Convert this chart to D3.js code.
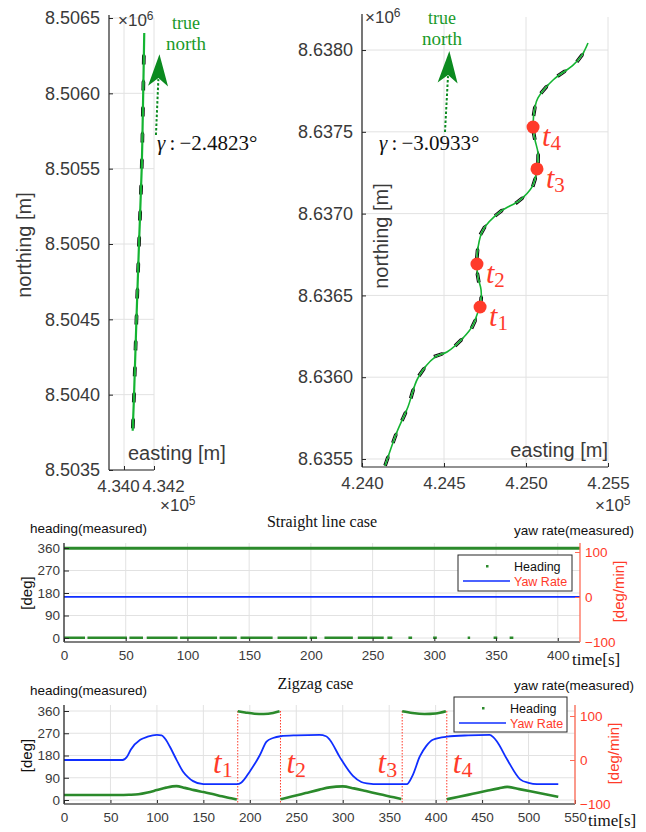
<!DOCTYPE html>
<html>
<head>
<meta charset="utf-8">
<script src="https://cdn.jsdelivr.net/npm/d3@7"></script>
<style>
  body { margin: 0; background: #fff; }
  svg { display: block; }
</style>
</head>
<body>
<div id="chart"></div>
<script>
// ---- data ----

// ship tracks, [easting, northing] in metres
const straightTrack = [
  [434058, 8503760], [434067, 8504000], [434083, 8504500], [434100, 8505000],
  [434118, 8505500], [434128, 8506000], [434135, 8506400]
];
const zigzagTrack = [
  [424140, 8635457], [424213, 8635665], [424280, 8635818], [424341, 8635995],
  [424445, 8636123], [424518, 8636154], [424616, 8636240], [424677, 8636319],
  [424707, 8636399], [424720, 8636429], [424726, 8636533], [424707, 8636612],
  [424701, 8636692], [424707, 8636790], [424738, 8636900], [424841, 8637010],
  [424963, 8637083], [425037, 8637163], [425067, 8637273], [425073, 8637370],
  [425055, 8637450], [425043, 8637529], [425055, 8637652], [425073, 8637707],
  [425165, 8637817], [425287, 8637908], [425341, 8637969], [425378, 8638043]
];
// zigzag event points t1..t4
const zigzagEvents = [
  { name: "1", e: 424720, n: 8636429 },
  { name: "2", e: 424701, n: 8636692 },
  { name: "3", e: 425067, n: 8637273 },
  { name: "4", e: 425043, n: 8637529 }
];
// grid convergence angles [deg]
const gammaStraight = -2.4823;
const gammaZigzag = -3.0933;

// axis ticks
const straightEastTicks = [434000, 434200];
const straightNorthTicks = [8503500, 8504000, 8504500, 8505000, 8505500, 8506000, 8506500];
const zigzagEastTicks = [424000, 424500, 425000, 425500];
const zigzagNorthTicks = [8635500, 8636000, 8636500, 8637000, 8637500, 8638000];
const headingTicks = [0, 90, 180, 270, 360];
const yawTicks = [-100, 0, 100];
const straightTimeTicks = [0, 50, 100, 150, 200, 250, 300, 350, 400];
const zigzagTimeTicks = [0, 50, 100, 150, 200, 250, 300, 350, 400, 450, 500, 550];

// straight line case: heading sits around 359 deg, with runs of samples wrapping to ~1 deg
const straightHeadingHigh = [[0, 359], [100, 359], [200, 359], [300, 359], [418, 359]];
const straightHeadingLowRuns = [
  [0, 17], [19, 51], [53, 64], [67, 92], [94, 124], [126, 140], [143, 169], [173, 197],
  [199, 205], [211, 234], [238, 259], [262, 266], [279, 282], [299, 302], [327, 329],
  [348, 351], [361, 364]
];
const straightHeadingLow = 1;
const straightYaw = [[0, 0.5], [100, 0.5], [200, 0.5], [300, 0.5], [418, 0.5]];

// zigzag case: heading [s, deg] (wraps at 0/360) and yaw rate [s, deg/min]
const zigzagHeading = [
  [0, 20], [30, 20], [60, 20], [70, 21], [80, 23], [90, 30], [100, 40], [110, 50], [121, 56],
  [130, 49], [140, 40], [150, 32], [160, 24], [170, 15], [180, 7], [186, 2],
  [187, 359], [195, 354], [205, 349], [215, 348], [225, 352], [232, 359],
  [233, 3], [245, 14], [260, 28], [275, 42], [286, 51], [300, 55], [312, 47], [325, 36],
  [340, 23], [355, 11], [363, 4],
  [364, 359], [375, 352], [388, 348], [400, 350], [411, 359],
  [412, 3], [425, 13], [440, 25], [455, 37], [468, 47], [477, 53], [490, 44], [510, 29], [532, 13]
];
const zigzagYaw = [
  [0, 0], [63, 0], [68, 8], [72, 24], [82, 46], [90, 53], [100, 57], [105, 56], [110, 45],
  [114, 30], [121, 1], [128, -26], [134, -40], [139, -48], [150, -55], [186, -55], [191, -51],
  [200, -26], [211, 12], [218, 42], [225, 50], [233, 54], [250, 56], [275, 57], [282, 54],
  [286, 46], [297, 6], [311, -36], [320, -50], [326, -53], [340, -55], [369, -55], [375, -36],
  [383, 8], [390, 32], [397, 46], [412, 53], [435, 56], [458, 57], [462, 52], [466, 42],
  [477, 1], [491, -44], [500, -52], [509, -55], [532, -55]
];
const zigzagEventTimes = [187, 233, 364, 412];

// ---- styles ----
const SANS = '"Liberation Sans", Arial, Helvetica, sans-serif';
const SERIF = '"Liberation Serif", "Times New Roman", Times, serif';
const AX = "#262626", TXT = "#3a3a3a", GRID = "#e2e2e2";
const TRACK = "#14b432", ARROW = "#0b8a1f", NORTHTXT = "#1a9a2a";
const HEAD = "#2b8a2b", YAW = "#0f2eff", RED = "#ff3b2a", RAXIS = "#ff6a55";

const svg = d3.select("#chart").append("svg")
  .attr("width", 646).attr("height", 832)
  .style("font-family", SANS);

function styleAxis(sel, color, size) {
  sel.select(".domain").remove();
  sel.selectAll(".tick line").attr("stroke", color);
  sel.selectAll(".tick text").attr("fill", TXT).style("font-size", size + "px").style("font-family", SANS);
}

// ---- top panels: ship tracks ----
function trackPanel(o) {
  const x = d3.scaleLinear().domain(o.xDomain).range(o.xRange);
  const y = d3.scaleLinear().domain(o.yDomain).range(o.yRange);
  const [xl, xr] = o.xRange, [yb, yt] = o.yRange;
  const g = svg.append("g");

  // grid
  g.append("g").selectAll("line").data(o.xTicks).join("line")
    .attr("x1", d => x(d)).attr("x2", d => x(d)).attr("y1", yb).attr("y2", yt)
    .attr("stroke", GRID);
  g.append("g").selectAll("line").data(o.yTicks).join("line")
    .attr("x1", xl).attr("x2", xr).attr("y1", d => y(d)).attr("y2", d => y(d))
    .attr("stroke", GRID);

  // axes
  const ya = g.append("g").attr("transform", `translate(${xl},0)`)
    .call(d3.axisLeft(y).tickValues(o.yTicks).tickSize(-4).tickPadding(9)
      .tickFormat(d => (d / 1e6).toFixed(4)));
  styleAxis(ya, AX, 18);
  const xa = g.append("g").attr("transform", `translate(0,${yb})`)
    .call(d3.axisBottom(x).tickValues(o.xTicks).tickSize(-4).tickPadding(10)
      .tickFormat(d => (d / 1e5).toFixed(3)));
  styleAxis(xa, AX, 17);
  xa.selectAll(".tick text").attr("dx", (d, i) => o.xLabelDx ? o.xLabelDx[i] : 0);
  g.append("line").attr("x1", xl).attr("x2", xl).attr("y1", yb).attr("y2", yt - 3)
    .attr("stroke", AX).attr("stroke-width", 1.2);
  g.append("line").attr("x1", xl).attr("x2", xr).attr("y1", yb).attr("y2", yb)
    .attr("stroke", AX).attr("stroke-width", 1.2);

  // exponents
  const e6 = g.append("text").attr("x", xl + o.exp6[0]).attr("y", yt + o.exp6[1])
    .attr("fill", TXT).style("font-size", "17px").text("\u00d710");
  e6.append("tspan").attr("dy", "-0.5em").style("font-size", "12px").text("6");
  const e5 = g.append("text").attr("x", xr + o.exp5[0]).attr("y", yb + o.exp5[1])
    .attr("fill", TXT).style("font-size", "17px").text("\u00d710");
  e5.append("tspan").attr("dy", "-0.5em").style("font-size", "12px").text("5");

  // axis labels
  g.append("text").attr("transform", `translate(${o.yLabel[0]},${o.yLabel[1]}) rotate(-90)`)
    .attr("text-anchor", "middle").attr("fill", TXT).style("font-size", "20px").text("northing [m]");
  g.append("text").attr("x", o.xLabel[0]).attr("y", o.xLabel[1]).attr("text-anchor", o.xLabelAnchor)
    .attr("fill", TXT).style("font-size", "20px").text("easting [m]");

  // track with ship outlines
  const line = d3.line().x(d => x(d[0])).y(d => y(d[1])).curve(d3.curveCatmullRom.alpha(0.5));
  const shipG = g.append("g");
  const path = g.append("path").datum(o.track).attr("d", line)
    .attr("fill", "none").attr("stroke", TRACK).attr("stroke-width", o.trackWidth);
  const node = path.node(), L = node.getTotalLength();
  const ships = d3.range(o.shipStart, L, o.shipStep).map(s => {
    const p = node.getPointAtLength(s);
    const a = node.getPointAtLength(Math.max(0, s - 2)), b = node.getPointAtLength(Math.min(L, s + 2));
    return { x: p.x, y: p.y, ang: Math.atan2(b.y - a.y, b.x - a.x) * 180 / Math.PI };
  });
  const hull = [[-5, -1.3], [3, -1.3], [5.5, 0], [3, 1.3], [-5, 1.3]];
  shipG.selectAll("path").data(ships).join("path")
    .attr("transform", d => `translate(${d.x},${d.y}) rotate(${d.ang})`)
    .attr("d", d3.line()(hull) + "Z")
    .attr("fill", "#fff").attr("stroke", "#111").attr("stroke-width", 1.1);

  // event markers
  if (o.events) {
    const ev = g.append("g").selectAll("g").data(o.events).join("g")
      .attr("transform", d => `translate(${x(d.e)},${y(d.n)})`);
    ev.append("circle").attr("r", 6.5).attr("fill", RED);
    const t = ev.append("text").attr("x", 9).attr("y", 19).attr("fill", RED)
      .style("font-family", SERIF).style("font-size", "30px");
    t.append("tspan").style("font-style", "italic").text("t");
    t.append("tspan").attr("dy", "0.2em").style("font-size", "21px").text(d => d.name);
  }

  // true north arrow
  const bx = x(o.north[0]), by = y(o.north[1]);
  const ar = g.append("g").attr("transform", `translate(${bx},${by}) rotate(${-o.gamma})`);
  ar.append("line").attr("x1", 0).attr("x2", 0).attr("y1", 0).attr("y2", -56)
    .attr("stroke", ARROW).attr("stroke-width", 2).attr("stroke-dasharray", "2.5,2");
  ar.append("path").attr("d", "M0,-81L10,-49L0,-57L-10,-49Z").attr("fill", ARROW);
  g.append("text").attr("x", bx + o.northText[0]).attr("y", by + o.northText[1])
    .attr("text-anchor", "middle").attr("fill", NORTHTXT)
    .style("font-family", SERIF).style("font-size", "18px").text("true");
  g.append("text").attr("x", bx + o.northText[0]).attr("y", by + o.northText[1] + 21)
    .attr("text-anchor", "middle").attr("fill", NORTHTXT)
    .style("font-family", SERIF).style("font-size", "19px").text("north");
  const gt = g.append("text").attr("x", bx + o.gammaText[0]).attr("y", by + o.gammaText[1])
    .attr("fill", "#111").style("font-family", SERIF).style("font-size", "21px");
  gt.append("tspan").style("font-style", "italic").text("\u03b3");
  gt.append("tspan").text("\u2009:\u2009\u2212" + Math.abs(o.gamma).toFixed(4) + "\u00b0");
}

trackPanel({
  track: straightTrack, xDomain: [433900, 434200], xRange: [109, 154],
  yDomain: [8503500, 8506500], yRange: [470, 18],
  xTicks: straightEastTicks, yTicks: straightNorthTicks, xLabelDx: [-6, 9],
  exp6: [9, 8], exp5: [6, 41], yLabel: [31, 245], xLabel: [128, 460], xLabelAnchor: "start",
  trackWidth: 2.2, shipStart: 8, shipStep: 26,
  north: [434213, 8505723], gamma: gammaStraight, northText: [30, -106], gammaText: [1, 15]
});
trackPanel({
  track: zigzagTrack, events: zigzagEvents, xDomain: [424000, 425500], xRange: [362, 608],
  yDomain: [8635451, 8638202], yRange: [467, 17],
  xTicks: zigzagEastTicks, yTicks: zigzagNorthTicks,
  exp6: [3, 6], exp5: [-13, 44], yLabel: [388, 236], xLabel: [608, 457], xLabelAnchor: "end",
  trackWidth: 1.6, shipStart: 6, shipStep: 24,
  north: [424506, 8637499], gamma: gammaZigzag, northText: [-3, -108], gammaText: [-66, 18]
});

// ---- bottom panels: heading / yaw rate over time ----
function splitWrap(data) {
  const segs = [[data[0]]];
  for (let i = 1; i < data.length; i++) {
    if (Math.abs(data[i][1] - data[i - 1][1]) > 180) segs.push([]);
    segs[segs.length - 1].push(data[i]);
  }
  return segs;
}

function timePanel(o) {
  const x = d3.scaleLinear().domain(o.xDomain).range([o.left, o.right]);
  const yL = d3.scaleLinear().domain([0, 360]).range(o.headRange);
  const yR = d3.scaleLinear().domain([-100, 100]).range(o.yawRange);
  const g = svg.append("g");

  // grid
  g.append("g").selectAll("line").data(o.xTicks.slice(1)).join("line")
    .attr("x1", d => x(d)).attr("x2", d => x(d)).attr("y1", o.top).attr("y2", o.bottom)
    .attr("stroke", GRID);
  g.append("g").selectAll("line").data(headingTicks).join("line")
    .attr("x1", o.left).attr("x2", o.right).attr("y1", d => yL(d)).attr("y2", d => yL(d))
    .attr("stroke", GRID);

  // event lines
  if (o.events) {
    g.append("g").selectAll("line").data(o.events).join("line")
      .attr("x1", d => x(d)).attr("x2", d => x(d)).attr("y1", yL(360)).attr("y2", o.bottom)
      .attr("stroke", RED).attr("stroke-width", 1).attr("stroke-dasharray", "1.5,1.5");
  }

  // yaw rate
  const yawLine = d3.line().x(d => x(d[0])).y(d => yR(d[1])).curve(d3.curveMonotoneX);
  g.append("path").datum(o.yaw).attr("d", yawLine)
    .attr("fill", "none").attr("stroke", YAW).attr("stroke-width", o.yawWidth);

  // heading
  const headLine = d3.line().x(d => x(d[0])).y(d => yL(d[1])).curve(d3.curveMonotoneX);
  g.append("g").selectAll("path").data(o.headingSegs).join("path").attr("d", headLine)
    .attr("fill", "none").attr("stroke", HEAD).attr("stroke-width", o.headWidth);
  if (o.lowRuns) {
    g.append("g").selectAll("line").data(o.lowRuns).join("line")
      .attr("x1", d => x(d[0])).attr("x2", d => x(d[1]))
      .attr("y1", yL(o.lowValue)).attr("y2", yL(o.lowValue))
      .attr("stroke", HEAD).attr("stroke-width", 2.5);
  }

  // event labels
  if (o.events) {
    const t = g.append("g").selectAll("text").data(o.events).join("text")
      .attr("x", (d, i) => x(d) + (i % 2 ? 6 : -5)).attr("y", o.eventLabelY)
      .attr("text-anchor", (d, i) => i % 2 ? "start" : "end")
      .attr("fill", RED).style("font-family", SERIF).style("font-size", "31px");
    t.append("tspan").style("font-style", "italic").text("t");
    t.append("tspan").attr("dy", "0.2em").style("font-size", "22px").text((d, i) => i + 1);
  }

  // axes
  const la = g.append("g").attr("transform", `translate(${o.left},0)`)
    .call(d3.axisLeft(yL).tickValues(headingTicks).tickSize(-5).tickPadding(4));
  styleAxis(la, AX, 13.5);
  const ba = g.append("g").attr("transform", `translate(0,${o.bottom})`)
    .call(d3.axisBottom(x).tickValues(o.xTicks).tickSize(-4).tickPadding(8));
  styleAxis(ba, AX, 13.5);
  const ra = g.append("g").attr("transform", `translate(${o.right},0)`)
    .call(d3.axisRight(yR).tickValues(yawTicks).tickSize(-5).tickPadding(5));
  styleAxis(ra, RAXIS, 13.5);
  ra.selectAll(".tick text").attr("fill", RED);

  g.append("line").attr("x1", o.left).attr("x2", o.right).attr("y1", o.bottom).attr("y2", o.bottom)
    .attr("stroke", "#808080").attr("stroke-width", 2);
  g.append("line").attr("x1", o.left).attr("x2", o.left).attr("y1", o.top).attr("y2", o.bottom)
    .attr("stroke", AX).attr("stroke-width", 1.3);
  g.append("line").attr("x1", o.right).attr("x2", o.right).attr("y1", o.top).attr("y2", o.bottom)
    .attr("stroke", RAXIS).attr("stroke-width", 1.3);

  // texts
  g.append("text").attr("x", (o.left + o.right) / 2 + o.titleDx).attr("y", o.top - 16)
    .attr("text-anchor", "middle").attr("fill", "#111")
    .style("font-family", SERIF).style("font-size", "16px").text(o.title);
  g.append("text").attr("x", 30).attr("y", o.top - o.headDy).attr("fill", "#111")
    .style("font-size", "13.5px").text("heading(measured)");
  g.append("text").attr("x", 634).attr("y", o.top - o.yawDy).attr("text-anchor", "end").attr("fill", "#111")
    .style("font-size", "13.5px").text("yaw rate(measured)");
  g.append("text").attr("transform", `translate(32,${(o.headRange[0] + o.headRange[1]) / 2}) rotate(-90)`)
    .attr("text-anchor", "middle").attr("fill", "#111").style("font-size", "15px").text("[deg]");
  g.append("text").attr("transform", `translate(${o.right + 44},${(o.top + o.bottom) / 2 - 1}) rotate(-90)`)
    .attr("text-anchor", "middle").attr("fill", RED).style("font-size", "15px").text("[deg/min]");
  g.append("text").attr("x", o.timeX).attr("y", o.bottom + o.timeDy).attr("fill", "#111")
    .style("font-family", SERIF).style("font-size", "17px").text("time[s]");

  // legend
  const lg = g.append("g").attr("transform", `translate(${o.legend[0]},${o.legend[1]})`);
  lg.append("rect").attr("width", o.legend[2]).attr("height", o.legend[3])
    .attr("fill", "#fff").attr("stroke", AX).attr("stroke-width", 1);
  lg.append("rect").attr("x", 28).attr("y", 10).attr("width", 2.5).attr("height", 2.5).attr("fill", HEAD);
  lg.append("text").attr("x", 56).attr("y", 15.5).attr("fill", "#111").style("font-size", "12.5px").text("Heading");
  lg.append("line").attr("x1", 5).attr("x2", 52).attr("y1", 26).attr("y2", 26)
    .attr("stroke", YAW).attr("stroke-width", 1.3);
  lg.append("text").attr("x", 56).attr("y", 30.5).attr("fill", RED).style("font-size", "12.5px").text("Yaw Rate");
}

timePanel({
  title: "Straight line case", titleDx: 0, xDomain: [0, 418], xTicks: straightTimeTicks,
  left: 64, right: 580, top: 543, bottom: 642, headRange: [638, 548], yawRange: [642, 552],
  headingSegs: [straightHeadingHigh], headWidth: 3.2,
  lowRuns: straightHeadingLowRuns, lowValue: straightHeadingLow,
  yaw: straightYaw, yawWidth: 1.8,
  headDy: 10, yawDy: 8, timeX: 572, timeDy: 23, legend: [458, 555, 114, 36]
});
timePanel({
  title: "Zigzag case", titleDx: -4, xDomain: [0, 550], xTicks: zigzagTimeTicks,
  left: 64, right: 575, top: 705, bottom: 804, headRange: [800, 711], yawRange: [804, 716],
  headingSegs: splitWrap(zigzagHeading), headWidth: 2.6,
  yaw: zigzagYaw, yawWidth: 1.8, events: zigzagEventTimes, eventLabelY: 773,
  headDy: 10, yawDy: 15, timeX: 588, timeDy: 22, legend: [454, 697, 113, 35]
});
</script>
</body>
</html>
